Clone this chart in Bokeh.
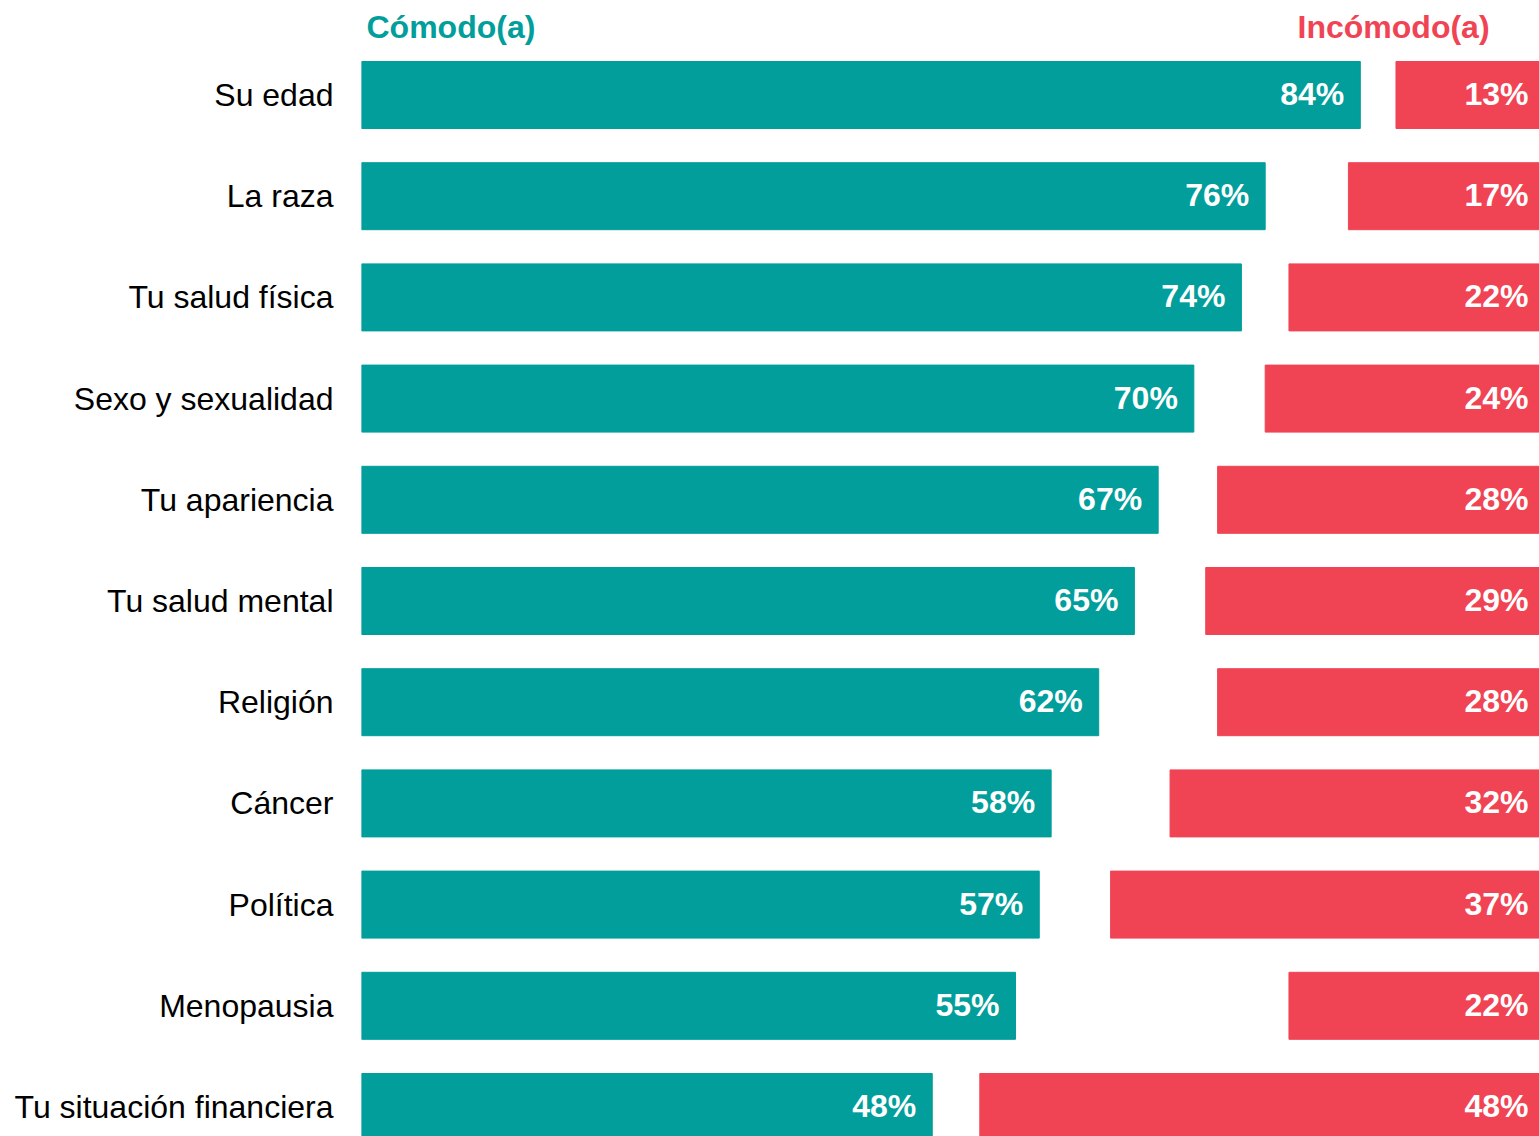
from bokeh.plotting import figure
from bokeh.models import Range1d, FixedTicker, ColumnDataSource, Label
from bokeh.core.properties import value
from bokeh.embed import file_html
from bokeh.resources import INLINE

categories = ["Su edad", "La raza", "Tu salud física", "Sexo y sexualidad", "Tu apariencia",
              "Tu salud mental", "Religión", "Cáncer", "Política", "Menopausia",
              "Tu situación financiera"]
comodo = [84, 76, 74, 70, 67, 65, 62, 58, 57, 55, 48]
incomodo = [13, 17, 22, 24, 28, 29, 28, 32, 37, 22, 48]

TEAL = "#019E9B"
RED = "#F04455"
FONT = "Liberation Sans"

rows = list(range(len(categories)))
src = ColumnDataSource(dict(
    y=rows,
    com=comodo,
    inc_left=[100 - v for v in incomodo],
    inc_right=[100] * len(incomodo),
    com_lbl=[f"{v}%" for v in comodo],
    inc_lbl=[f"{v}%" for v in incomodo],
))

p = figure(width=1539, height=1136, output_backend="svg", toolbar_location=None,
           x_range=Range1d(0, 99.07), y_range=Range1d(10.2915, -0.9338),
           min_border_left=361, min_border_right=0, min_border_top=0, min_border_bottom=0)
p.outline_line_color = None
p.xgrid.visible = False
p.ygrid.visible = False
p.xaxis.visible = False

p.hbar(y="y", left=0, right="com", height=0.662, color=TEAL, source=src)
p.hbar(y="y", left="inc_left", right="inc_right", height=0.662, color=RED, source=src)

p.text(x="com", y="y", text="com_lbl", source=src, x_offset=-16, y_offset=-1, text_align="right",
       text_baseline="middle", text_color="white", text_font=value(FONT),
       text_font_size="32px", text_font_style="bold")
p.text(x="inc_right", y="y", text="inc_lbl", source=src, x_offset=-22, y_offset=-1, text_align="right",
       text_baseline="middle", text_color="white", text_font=value(FONT),
       text_font_size="32px", text_font_style="bold")

yax = p.yaxis[0]
yax.ticker = FixedTicker(ticks=rows)
yax.major_label_overrides = {i: c for i, c in enumerate(categories)}
yax.axis_line_color = None
yax.major_tick_line_color = None
yax.minor_tick_line_color = None
yax.major_tick_in = 0
yax.major_tick_out = 0
yax.major_label_standoff = 28
yax.major_label_text_font = FONT
yax.major_label_text_font_size = "32px"
yax.major_label_text_color = "black"

p.add_layout(Label(x=0.42, y=-0.668, text="Cómodo(a)", text_color=TEAL, text_font=FONT,
                   text_font_size="32px", text_font_style="bold", text_baseline="middle",
                   text_align="left"))
p.add_layout(Label(x=94.87, y=-0.668, text="Incómodo(a)", text_color=RED, text_font=FONT,
                   text_font_size="32px", text_font_style="bold", text_baseline="middle",
                   text_align="right"))

open("out.html", "w").write(file_html(p, INLINE))
